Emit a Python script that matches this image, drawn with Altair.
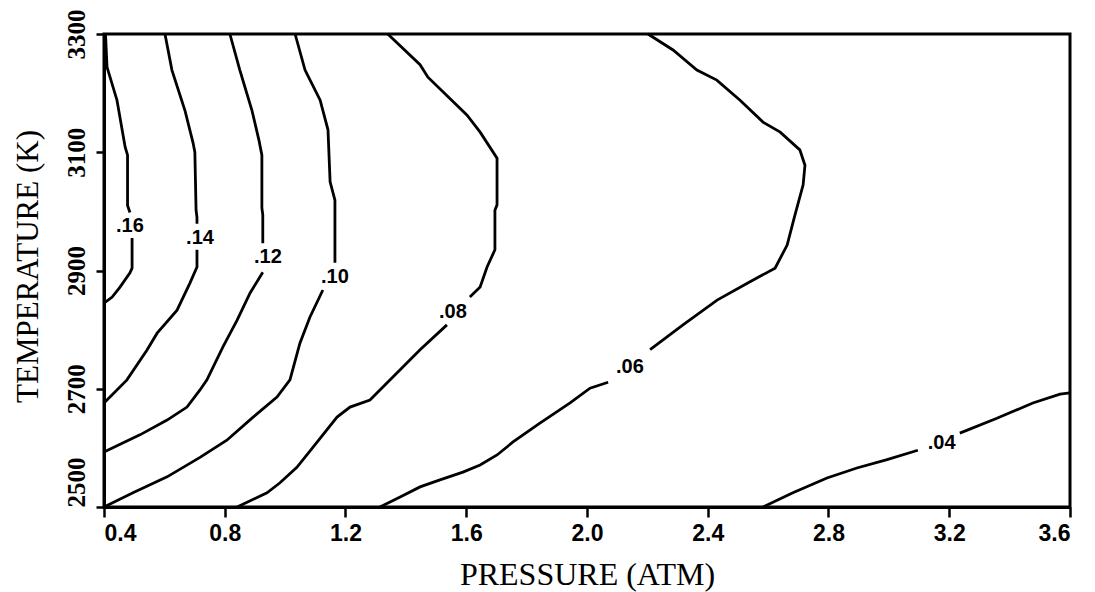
import altair as alt
import pandas as pd

# Contour runs: each level is split into two runs (a, b) around its label.
# Pressure (atm) and temperature (K) along each run.
p16a = [0.405, 0.41, 0.443, 0.47, 0.478, 0.478, 0.486]
t16a = [3300, 3244, 3188, 3109, 3095, 3010, 2998]
p16b = [0.493, 0.493, 0.486, 0.453, 0.427, 0.4]
t16b = [2955, 2904, 2896, 2872, 2855, 2845]

p14a = [0.602, 0.625, 0.668, 0.695, 0.701, 0.705, 0.708, 0.708]
t14a = [3300, 3239, 3171, 3116, 3100, 3002, 2990, 2979]
p14b = [0.708, 0.708, 0.685, 0.642, 0.576, 0.542, 0.476, 0.4]
t14b = [2935, 2906, 2879, 2833, 2794, 2765, 2715, 2676]

p12a = [0.817, 0.85, 0.89, 0.913, 0.923, 0.923, 0.926, 0.926]
t12a = [3300, 3239, 3171, 3121, 3095, 3006, 2994, 2946]
p12b = [0.926, 0.884, 0.841, 0.794, 0.741, 0.718, 0.675, 0.609, 0.519, 0.4]
t12b = [2897, 2862, 2816, 2771, 2715, 2698, 2669, 2647, 2622, 2593]

p10a = [1.033, 1.066, 1.116, 1.142, 1.149, 1.165, 1.165]
t10a = [3300, 3239, 3188, 3138, 3050, 3019, 2913]
p10b = [1.125, 1.082, 1.049, 1.016, 0.973, 0.894, 0.807, 0.718, 0.609, 0.496, 0.4]
t10b = [2867, 2821, 2777, 2715, 2686, 2652, 2613, 2584, 2551, 2524, 2500]

p08a = [1.34, 1.447, 1.473, 1.602, 1.646, 1.702, 1.702, 1.695, 1.695, 1.669, 1.646, 1.612]
t08a = [3300, 3248, 3227, 3163, 3134, 3090, 3011, 3002, 2935, 2906, 2872, 2855]
p08b = [1.536, 1.447, 1.381, 1.324, 1.281, 1.215, 1.172, 1.092, 1.039, 0.983, 0.94, 0.841]
t08b = [2808, 2766, 2732, 2703, 2681, 2669, 2652, 2601, 2567, 2541, 2524, 2500]

p06a = [2.202, 2.285, 2.364, 2.43, 2.507, 2.583, 2.64, 2.705, 2.722, 2.716, 2.689,
        2.663, 2.623, 2.54, 2.431, 2.318, 2.209]
t06a = [3300, 3273, 3239, 3222, 3188, 3151, 3134, 3104, 3078, 3045, 2994,
        2943, 2904, 2881, 2850, 2808, 2766]
p06b = [2.07, 2.01, 1.944, 1.844, 1.755, 1.702, 1.646, 1.589, 1.513, 1.447, 1.381, 1.314]
t06b = [2711, 2701, 2676, 2642, 2610, 2588, 2571, 2559, 2546, 2534, 2517, 2500]

p04a = [2.583, 2.682, 2.795, 2.894, 2.994, 3.096]
t04a = [2500, 2524, 2549, 2566, 2580, 2596]
p04b = [3.235, 3.358, 3.477, 3.567, 3.6]
t04b = [2625, 2650, 2676, 2691, 2693]

# Contour labels and where they sit
label_text = [".16", ".14", ".12", ".10", ".08", ".06", ".04"]
label_p = [0.486, 0.718, 0.943, 1.165, 1.556, 2.142, 3.175]
label_t = [2976, 2955, 2923, 2889, 2830, 2737, 2608]

x_ticks = [0.4, 0.8, 1.2, 1.6, 2.0, 2.4, 2.8, 3.2, 3.6]
y_ticks = [2500, 2700, 2900, 3100, 3300]

runs = {
    "16a": (p16a, t16a), "16b": (p16b, t16b),
    "14a": (p14a, t14a), "14b": (p14b, t14b),
    "12a": (p12a, t12a), "12b": (p12b, t12b),
    "10a": (p10a, t10a), "10b": (p10b, t10b),
    "08a": (p08a, t08a), "08b": (p08b, t08b),
    "06a": (p06a, t06a), "06b": (p06b, t06b),
    "04a": (p04a, t04a), "04b": (p04b, t04b),
}
rows = []
for seg, (ps, ts) in runs.items():
    for i, (p, t) in enumerate(zip(ps, ts)):
        rows.append({"seg": seg, "i": i, "p": p, "t": t})
lines_df = pd.DataFrame(rows)
labels_df = pd.DataFrame({"label": label_text, "p": label_p, "t": label_t})

x_scale = alt.Scale(domain=[0.4, 3.6], nice=False, zero=False)
y_scale = alt.Scale(domain=[2500, 3300], nice=False, zero=False)

x_axis = alt.Axis(
    values=x_ticks, format=".1f", grid=False,
    title="PRESSURE (ATM)",
    titleFont="Liberation Serif", titleFontSize=32, titleFontWeight="normal",
    titleColor="black", titleY=77, titleBaseline="alphabetic",
    labelFont="Liberation Sans", labelFontSize=23, labelFontWeight="bold",
    labelColor="black", labelPadding=5,
    tickSize=10, tickWidth=2.5, tickColor="black",
    domainColor="black", domainWidth=3,
)
y_axis = alt.Axis(
    values=y_ticks, format="d", grid=False,
    title="TEMPERATURE (K)",
    titleFont="Liberation Serif", titleFontSize=31, titleFontWeight="normal",
    titleColor="black", titleAngle=270, titleX=-67, titleY=232,
    titleBaseline="alphabetic", titleAlign="center",
    labelFont="Liberation Serif", labelFontSize=25, labelFontWeight="bold",
    labelColor="black", labelAngle=270, labelPadding=7,
    labelAlign={"condition": {"test": "datum.value <= 2500", "value": "left"}, "value": "center"},
    labelBaseline="bottom",
    tickSize=8, tickWidth=2.5, tickColor="black",
    domainColor="black", domainWidth=3,
)

lines = alt.Chart(lines_df).mark_line(color="black", strokeWidth=2.8).encode(
    x=alt.X("p:Q", scale=x_scale, axis=x_axis),
    y=alt.Y("t:Q", scale=y_scale, axis=y_axis),
    detail="seg:N",
    order="i:Q",
)

labels = alt.Chart(labels_df).mark_text(
    font="Liberation Sans", fontSize=20, fontWeight="bold", color="black"
).encode(
    x=alt.X("p:Q", scale=x_scale),
    y=alt.Y("t:Q", scale=y_scale),
    text="label:N",
)

chart = alt.layer(lines, labels).properties(
    width=966, height=473,
    autosize=alt.AutoSizeParams(type="none"),
    padding={"left": 104, "top": 34, "right": 25, "bottom": 85},
    background="white",
).configure_view(stroke="black", strokeWidth=3)

chart.save("out.html", embed_options={"renderer": "svg", "actions": False})
